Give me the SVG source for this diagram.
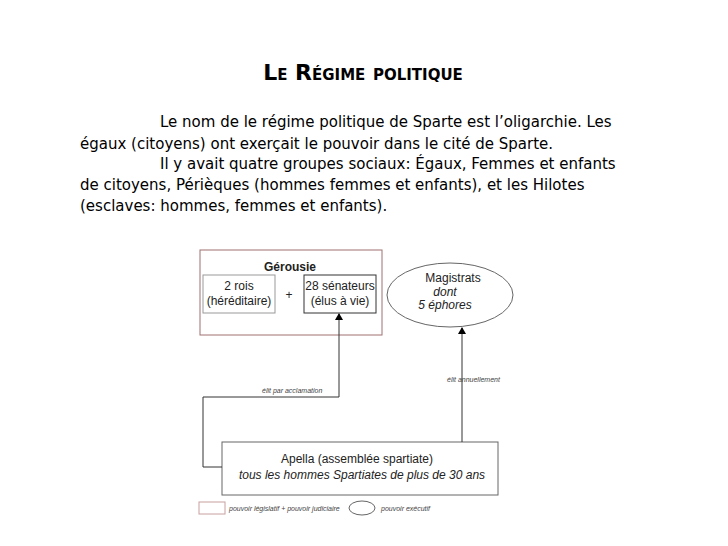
<svg xmlns="http://www.w3.org/2000/svg" width="728" height="546" viewBox="0 0 728 546">
<style>
.p{font-family:"DejaVu Sans",sans-serif;font-size:15px;fill:#000}
.d{font-family:"Liberation Sans",Arial,sans-serif;font-size:12px;fill:#222}
.s{font-family:"Liberation Sans",Arial,sans-serif;font-size:7px;font-style:italic;fill:#444}
.ln{fill:none;stroke:#333;stroke-width:1}
</style>
<defs><marker id="a" markerWidth="8" markerHeight="8" refX="4" refY="0" orient="auto-start-reverse" markerUnits="userSpaceOnUse" overflow="visible"><path d="M0,0 L4,-7 L8,0 Z" fill="#000" transform="rotate(90 4 0)"/></marker></defs>
<rect width="728" height="546" fill="#fff"/>
<text x="363" y="80" text-anchor="middle" style="font-family:'DejaVu Sans',sans-serif;font-weight:bold;font-size:22px;font-variant:small-caps">Le Régime politique</text>
<g class="p">
<text x="160" y="127">Le nom de le régime politique de Sparte est l’oligarchie. Les</text>
<text x="80" y="149">égaux (citoyens) ont exerçait le pouvoir dans le cité de Sparte.</text>
<text x="160" y="169">Il y avait quatre groupes sociaux: Égaux, Femmes et enfants</text>
<text x="80" y="190">de citoyens, Périèques (hommes femmes et enfants), et les Hilotes</text>
<text x="80" y="211">(esclaves: hommes, femmes et enfants).</text>
</g>
<g id="gerousie">
<rect x="200" y="250" width="182" height="85" fill="#fff" stroke="#a07070"/>
<text class="d" x="290" y="271" text-anchor="middle" font-weight="bold">Gérousie</text>
<rect x="203" y="275" width="72" height="38" fill="#fff" stroke="#999"/>
<text class="d" x="239" y="290" text-anchor="middle">2 rois</text>
<text class="d" x="239" y="305" text-anchor="middle">(héréditaire)</text>
<text class="d" x="289" y="299" text-anchor="middle">+</text>
<rect x="304" y="275" width="72" height="38" fill="#fff" stroke="#333"/>
<text class="d" x="340" y="290" text-anchor="middle">28 sénateurs</text>
<text class="d" x="340" y="305" text-anchor="middle">(élus à vie)</text>
</g>
<g id="magistrats">
<ellipse cx="450" cy="295" rx="63" ry="32" fill="#fff" stroke="#666"/>
<text class="d" x="453" y="282" text-anchor="middle">Magistrats</text>
<text class="d" x="445" y="296" text-anchor="middle" font-style="italic">dont</text>
<text class="d" x="445" y="309" text-anchor="middle" font-style="italic">5 éphores</text>
</g>
<g id="apella">
<rect x="222" y="442" width="276" height="53" fill="#fff" stroke="#666"/>
<text class="d" x="357" y="463" text-anchor="middle">Apella (assemblée spartiate)</text>
<text class="d" x="362" y="479" text-anchor="middle" font-style="italic">tous les hommes Spartiates de plus de 30 ans</text>
</g>
<g id="connectors">
<path class="ln" d="M222,467 H203 V397 H339 V314"/>
<path d="M335,320 L339,313 L343,320 Z" fill="#000"/>
<path class="ln" d="M462,442 V328"/>
<path d="M458,334 L462,327 L466,334 Z" fill="#000"/>
<text class="s" x="262" y="393">élit par acclamation</text>
<text class="s" x="447" y="382">élit annuellement</text>
</g>
<g id="legend">
<rect x="199" y="502" width="26" height="12" fill="#fff" stroke="#c9a0a0"/>
<text class="s" x="229" y="511">pouvoir législatif + pouvoir judiciaire</text>
<ellipse cx="362" cy="508" rx="13" ry="7" fill="#fff" stroke="#666"/>
<text class="s" x="381" y="511">pouvoir exécutif</text>
</g>
</svg>
